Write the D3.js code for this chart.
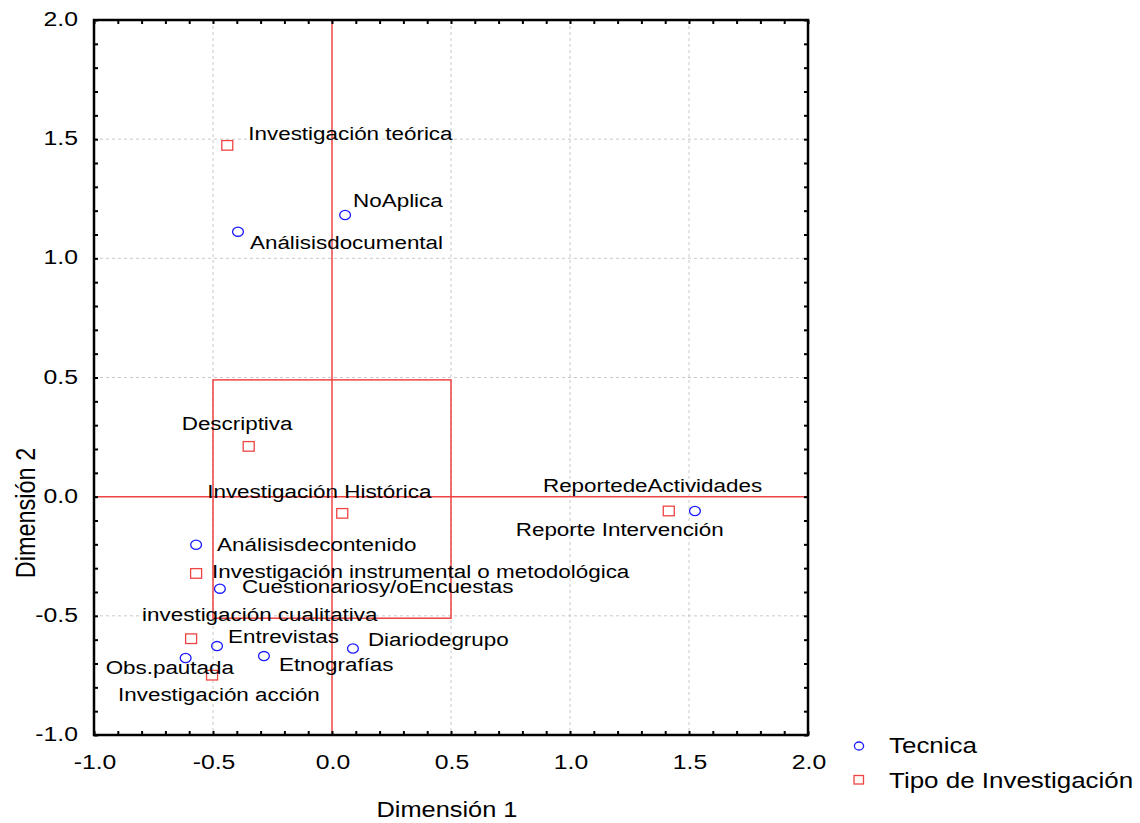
<!DOCTYPE html>
<html>
<head>
<meta charset="utf-8">
<script src="https://cdn.jsdelivr.net/npm/d3@7"></script>
<style>
  html, body { margin: 0; padding: 0; background: #fff; }
  svg { display: block; font-family: "Liberation Sans", Arial, sans-serif; }
</style>
</head>
<body>
<svg id="chart" width="1140" height="823"></svg>
<script>
// Correspondence analysis: coordinates on Dimensión 1 / Dimensión 2
const tecnicaNames = ["NoAplica", "Análisisdocumental", "Análisisdecontenido", "Cuestionariosy/oEncuestas",
  "Entrevistas", "Obs.pautada", "Etnografías", "Diariodegrupo", "ReportedeActividades"];
const tecnicaX = [0.055, -0.395, -0.571, -0.471, -0.483, -0.615, -0.286, 0.088, 1.525];
const tecnicaY = [1.182, 1.112, -0.202, -0.386, -0.627, -0.677, -0.669, -0.637, -0.060];

const tipoNames = ["Investigación teórica", "Descriptiva", "Investigación Histórica",
  "Investigación instrumental o metodológica", "investigación cualitativa", "Investigación acción",
  "Reporte Intervención"];
const tipoX = [-0.44, -0.35, 0.043, -0.571, -0.592, -0.504, 1.415];
const tipoY = [1.474, 0.211, -0.070, -0.322, -0.596, -0.749, -0.060];

const xTicks = [-1.0, -0.5, 0.0, 0.5, 1.0, 1.5, 2.0];
const yTicks = [-1.0, -0.5, 0.0, 0.5, 1.0, 1.5, 2.0];
const boxX = [-0.5, 0.5];
const boxY = [-0.51, 0.49];
const seriesNames = ["Tecnica", "Tipo de Investigación"];

// label placement relative to each marker (pixels)
const labelOffsets = {
  "NoAplica": [8, -8],
  "Análisisdocumental": [12, 17],
  "Análisisdecontenido": [21, 6],
  "Cuestionariosy/oEncuestas": [22, 4],
  "Entrevistas": [11, -3],
  "Obs.pautada": [-80, 16],
  "Etnografías": [15, 15],
  "Diariodegrupo": [15, -2],
  "ReportedeActividades": [-152, -19],
  "Investigación teórica": [21, -5],
  "Descriptiva": [-67, -16],
  "Investigación Histórica": [-135, -15],
  "Investigación instrumental o metodológica": [16, 5],
  "investigación cualitativa": [-49, -18],
  "Investigación acción": [-94, 26],
  "Reporte Intervención": [-153, 25]
};

const svg = d3.select("#chart");
const pLeft = 94, pTop = 20, pRight = 808, pBottom = 735;
const SX = 1.18; // horizontal glyph stretch used for every text and marker

const x = d3.scaleLinear().domain([-1, 2]).range([pLeft, pRight]);
const y = d3.scaleLinear().domain([-1, 2]).range([pBottom, pTop]);
const fmt = v => d3.format(".1f")(v).replace("−", "-");

const RED = "#ee4444";
const BLUE = "#1a1aff";

// text positioned by transform so it can be widened horizontally
function placeText(sel, fx, fy) {
  return sel.attr("x", 0).attr("y", 0)
    .attr("transform", (d, i) => `translate(${fx(d, i)},${fy(d, i)}) scale(${SX},1)`);
}

// dashed grid at major ticks (zero handled by red reference lines)
const g = svg.append("g");
g.selectAll("line.gx").data(xTicks.filter(v => v > -1 && v < 2 && v !== 0)).join("line")
  .attr("class", "gx")
  .attr("x1", d => x(d)).attr("x2", d => x(d)).attr("y1", pTop).attr("y2", pBottom)
  .attr("stroke", "#c8c8c8").attr("stroke-width", 1).attr("stroke-dasharray", "3,3");
g.selectAll("line.gy").data(yTicks.filter(v => v > -1 && v < 2 && v !== 0)).join("line")
  .attr("class", "gy")
  .attr("y1", d => y(d)).attr("y2", d => y(d)).attr("x1", pLeft).attr("x2", pRight)
  .attr("stroke", "#c8c8c8").attr("stroke-width", 1).attr("stroke-dasharray", "3,3");

// red reference lines and box
svg.append("line").attr("x1", x(0)).attr("x2", x(0)).attr("y1", pTop).attr("y2", pBottom)
  .attr("stroke", RED).attr("stroke-width", 1.5);
svg.append("line").attr("x1", pLeft).attr("x2", pRight).attr("y1", y(0)).attr("y2", y(0))
  .attr("stroke", RED).attr("stroke-width", 1.5);
svg.append("rect")
  .attr("x", x(boxX[0])).attr("y", y(boxY[1]))
  .attr("width", x(boxX[1]) - x(boxX[0])).attr("height", y(boxY[0]) - y(boxY[1]))
  .attr("fill", "none").attr("stroke", RED).attr("stroke-width", 1.5);

// inward ticks on all four sides
const minorTicks = d3.range(-1, 2.0001, 0.1).map(v => +v.toFixed(1));
const tickLen = 4;
function sideAxis(axisFn, scale, transform) {
  const a = axisFn(scale).tickValues(minorTicks).tickSize(-tickLen).tickFormat("");
  const sel = svg.append("g").attr("transform", transform).call(a);
  sel.select(".domain").remove();
  sel.selectAll(".tick line").attr("stroke", "#000").attr("stroke-width", 2);
}
sideAxis(d3.axisBottom, x, `translate(0,${pBottom})`);
sideAxis(d3.axisTop, x, `translate(0,${pTop})`);
sideAxis(d3.axisLeft, y, `translate(${pLeft},0)`);
sideAxis(d3.axisRight, y, `translate(${pRight},0)`);

// frame
svg.append("rect").attr("x", pLeft).attr("y", pTop).attr("width", pRight - pLeft).attr("height", pBottom - pTop)
  .attr("fill", "none").attr("stroke", "#000").attr("stroke-width", 2.5);

// tick labels
svg.append("g").selectAll("text").data(xTicks).join("text")
  .call(placeText, d => x(d) + 1, () => 769)
  .attr("text-anchor", "middle").attr("font-size", 21)
  .text(fmt);
svg.append("g").selectAll("text").data(yTicks).join("text")
  .call(placeText, () => 78, d => y(d) + 6)
  .attr("text-anchor", "end").attr("font-size", 21)
  .text(fmt);

// axis titles
svg.append("text")
  .attr("transform", `translate(${x(0.5) - 4},817) scale(${SX},1)`)
  .attr("text-anchor", "middle").attr("font-size", 21.5)
  .text("Dimensión 1");
svg.append("text")
  .attr("transform", `translate(35,513) scale(${SX},1) rotate(-90)`)
  .attr("text-anchor", "middle").attr("font-size", 23.5)
  .text("Dimensión 2");

// points
const tecnica = tecnicaNames.map((n, i) => ({ name: n, x: tecnicaX[i], y: tecnicaY[i] }));
const tipo = tipoNames.map((n, i) => ({ name: n, x: tipoX[i], y: tipoY[i] }));

svg.append("g").selectAll("rect").data(tipo).join("rect")
  .attr("x", d => x(d.x) - 5.5).attr("y", d => y(d.y) - 4.8).attr("width", 11).attr("height", 9.6)
  .attr("fill", "#fff").attr("stroke", RED).attr("stroke-width", 1.3);
svg.append("g").selectAll("ellipse").data(tecnica).join("ellipse")
  .attr("cx", d => x(d.x)).attr("cy", d => y(d.y)).attr("rx", 5.4).attr("ry", 4.6)
  .attr("fill", "none").attr("stroke", BLUE).attr("stroke-width", 1.3);

svg.append("g").selectAll("text").data(tecnica.concat(tipo)).join("text")
  .call(placeText, d => x(d.x) + labelOffsets[d.name][0], d => y(d.y) + labelOffsets[d.name][1])
  .attr("font-size", 19).attr("fill", "#000")
  .text(d => d.name);

// legend
const legend = svg.append("g");
legend.append("ellipse").attr("cx", 859).attr("cy", 746).attr("rx", 4.6).attr("ry", 4)
  .attr("fill", "none").attr("stroke", BLUE).attr("stroke-width", 1.3);
legend.append("rect").attr("x", 854).attr("y", 775.5).attr("width", 9.5).attr("height", 8.5)
  .attr("fill", "#fffaf5").attr("stroke", RED).attr("stroke-width", 1.3);
legend.selectAll("text").data(seriesNames).join("text")
  .call(placeText, () => 889, (d, i) => 753 + i * 35)
  .attr("font-size", 22)
  .text(d => d);
</script>
</body>
</html>
